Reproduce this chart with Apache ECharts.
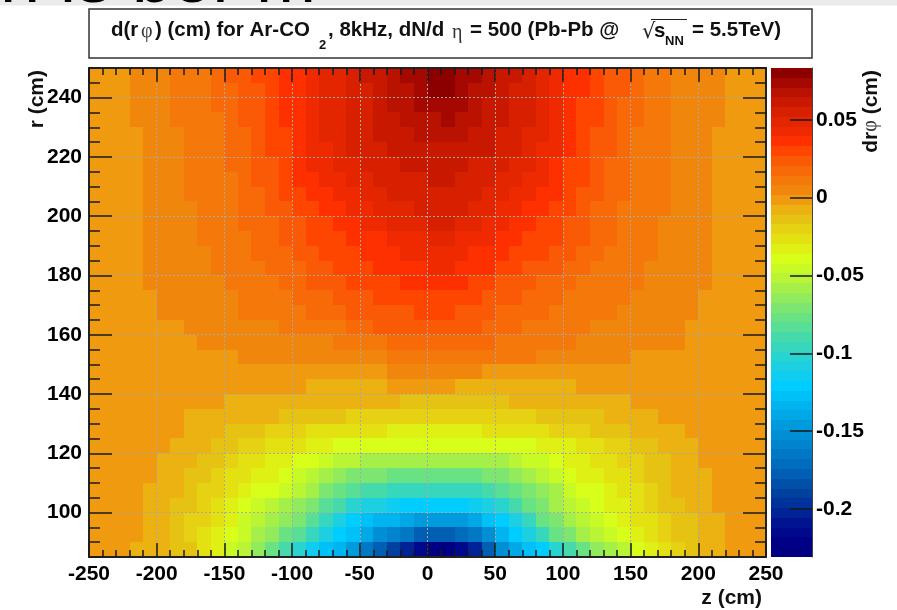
<!DOCTYPE html>
<html>
<head>
<meta charset="utf-8">
<title>d(r phi) map</title>
<script src="https://cdn.jsdelivr.net/npm/echarts@6/dist/echarts.min.js"></script>
<style>
html,body{margin:0;padding:0;background:#fff}
#main{width:897px;height:610px}
</style>
</head>
<body>
<div id="main"></div>
<script>
// bin centres in cm
var zCenters = [-245,-235,-225,-215,-205,-195,-185,-175,-165,-155,-145,-135,-125,-115,-105,-95,-85,-75,-65,-55,-45,-35,-25,-15,-5,
                5,15,25,35,45,55,65,75,85,95,105,115,125,135,145,155,165,175,185,195,205,215,225,235,245];
var rCenters = [247.5,242.5,237.5,232.5,227.5,222.5,217.5,212.5,207.5,202.5,197.5,192.5,187.5,182.5,177.5,172.5,167.5,162.5,157.5,152.5,147.5,
                142.5,137.5,132.5,127.5,122.5,117.5,112.5,107.5,102.5,97.5,92.5,87.5];

// dr-phi, in 1/1000 cm, one row per rCenters entry
var drphiRows = [
[-1,-1,0,2,4,6,8,11,13,16,21,24,27,31,35,39,43,47,51,55,59,63,68,72,76, 79,81,76,72,67,63,59,55,50,45,37,34,30,26,22,17,14,11,7,5,4,2,1,-1,-1],
[-1,-1,0,2,4,6,8,11,13,15,20,23,26,30,34,38,43,47,51,54,58,62,66,70,73, 78,78,73,70,65,62,58,54,49,44,36,33,29,25,21,16,13,11,7,5,4,2,0,-1,-1],
[-1,-1,0,2,4,6,8,10,12,15,19,22,26,30,34,38,42,46,50,54,57,61,65,68,71, 73,74,71,68,64,60,57,53,48,43,36,32,28,24,20,16,13,10,7,5,4,2,0,-1,-1],
[-1,-1,0,2,3,5,8,10,12,14,18,21,25,29,33,37,42,46,50,53,56,60,63,66,68, 70,71,68,65,62,59,56,52,47,42,35,31,27,23,19,15,12,10,7,5,3,2,0,-1,-1],
[-1,-1,0,1,3,5,7,10,12,14,17,20,24,28,32,37,42,46,50,53,55,59,61,64,66, 67,68,66,63,60,58,55,51,46,41,34,30,26,22,18,14,12,10,7,5,3,1,0,-1,-1],
[-1,-1,-1,1,3,5,7,9,11,13,16,19,23,27,31,36,41,45,49,52,54,58,60,62,63, 64,64,63,61,59,57,54,50,45,40,33,29,25,21,17,13,11,9,7,5,3,1,-1,-1,-1],
[-1,-1,-1,1,3,5,7,9,11,13,15,19,22,26,30,35,40,44,47,50,52,55,57,59,60, 62,62,61,58,57,54,51,47,43,38,32,28,23,19,16,13,11,9,7,5,3,1,-1,-1,-1],
[-1,-1,-1,1,3,5,6,8,10,12,14,18,21,25,28,33,37,41,44,47,49,52,54,56,58, 59,60,58,55,53,51,48,45,41,35,30,27,22,18,15,12,10,8,7,5,3,1,-1,-1,-1],
[-1,-1,-1,1,3,4,6,8,10,12,14,17,20,23,27,31,35,38,41,44,47,50,52,54,56, 57,57,55,53,50,48,45,42,38,33,29,25,21,17,15,12,10,8,7,5,3,1,-1,-1,-1],
[-1,-1,-1,1,2,4,5,7,9,11,13,16,19,21,25,28,32,35,38,41,44,47,49,51,53, 55,55,52,50,47,45,42,39,35,31,27,24,20,16,14,12,10,8,6,5,3,1,-1,-1,-1],
[-1,-1,-1,1,2,3,4,6,8,10,12,15,18,20,23,26,29,32,35,38,41,44,46,48,50, 52,52,49,46,44,41,39,36,32,29,26,23,19,15,13,11,9,7,6,4,3,1,-1,-1,-1],
[-1,-1,-1,1,2,3,4,6,8,10,12,14,16,18,21,24,27,29,32,34,37,39,41,43,45, 48,48,45,42,40,37,35,32,30,27,24,21,17,15,13,11,9,7,6,4,3,1,-1,-1,-1],
[-1,-1,-1,1,2,3,4,6,7,9,10,12,15,17,19,22,25,27,30,32,34,36,38,40,42, 44,44,41,39,37,34,32,29,27,24,21,18,15,13,11,10,8,6,5,4,2,1,-1,-1,-1],
[-1,-1,-1,0,2,3,4,5,7,8,9,12,14,15,17,20,23,25,28,30,32,33,35,37,39, 41,40,37,35,33,30,28,26,24,21,18,15,13,12,10,9,7,6,5,4,2,1,-1,-1,-1],
[-1,-1,-1,0,2,3,4,5,6,7,8,10,12,14,16,18,21,23,26,28,30,31,32,33,35, 37,36,33,31,28,26,24,22,20,17,15,13,11,10,9,8,6,5,4,3,2,0,-1,-1,-1],
[-1,-1,-1,-1,1,2,3,4,5,6,7,9,10,12,14,16,18,20,22,24,26,27,28,29,31, 32,31,29,27,25,23,21,19,17,15,13,11,10,9,8,7,6,5,4,3,1,0,-1,-1,-1],
[-1,-1,-1,-1,0,2,2,3,4,5,6,8,9,10,12,14,16,18,20,22,23,24,25,26,27, 28,28,26,24,22,20,19,17,15,14,12,10,9,8,7,6,5,4,3,3,1,0,-1,-1,-1],
[-1,-1,-1,-1,-1,0,1,2,3,3,4,5,6,7,8,9,10,12,14,16,19,21,22,23,24, 24,24,23,21,19,16,15,13,12,11,9,8,7,6,5,4,3,3,2,1,0,-1,-1,-1,-1],
[-1,-1,-1,-1,-1,-1,0,1,2,2,3,3,4,4,5,5,6,7,8,10,12,14,16,18,20, 20,20,19,17,15,14,13,12,10,9,8,7,6,5,5,4,3,2,2,1,0,-1,-1,-1,-1],
[-1,-1,-1,-1,-1,-1,-1,-1,0,0,1,2,3,3,4,4,5,5,5,6,7,7,8,9,11, 12,13,12,11,10,9,8,8,7,6,6,5,4,3,2,1,1,0,-1,-1,-1,-1,-1,-1,-1],
[-2,-2,-2,-2,-2,-2,-2,-2,-2,-1,-1,-1,-1,0,0,0,0,0,1,1,1,1,2,3,4, 5,4,3,2,1,0,0,0,-1,-1,-1,-1,-1,-1,-1,-1,-1,-1,-1,-2,-2,-2,-2,-2,-2],
[-2,-2,-2,-2,-2,-2,-2,-3,-3,-3,-3,-3,-3,-4,-4,-4,-5,-5,-6,-6,-6,-5,-4,-4,-3, -3,-4,-5,-6,-6,-6,-6,-6,-6,-6,-5,-4,-3,-3,-2,-2,-2,-2,-2,-2,-2,-2,-2,-2,-2],
[-2,-2,-2,-2,-3,-3,-3,-3,-4,-4,-5,-6,-6,-7,-7,-8,-8,-9,-9,-10,-10,-11,-11,-12,-12, -12,-12,-12,-12,-12,-12,-11,-11,-11,-10,-10,-9,-8,-6,-5,-4,-4,-3,-3,-2,-2,-2,-2,-2,-2],
[-3,-3,-3,-3,-3,-3,-4,-5,-6,-7,-9,-10,-11,-11,-13,-14,-15,-16,-17,-18,-18,-19,-19,-20,-20, -20,-20,-20,-20,-19,-19,-18,-18,-17,-16,-15,-13,-12,-11,-9,-8,-5,-4,-4,-3,-3,-3,-3,-3,-3],
[-3,-3,-3,-3,-3,-3,-4,-6,-9,-11,-13,-15,-17,-19,-21,-23,-24,-26,-27,-28,-29,-29,-30,-30,-30, -30,-30,-30,-30,-29,-28,-27,-26,-25,-23,-21,-19,-17,-15,-13,-11,-9,-7,-5,-4,-3,-3,-3,-3,-3],
[-3,-3,-3,-3,-3,-4,-5,-8,-11,-14,-16,-19,-22,-25,-27,-29,-32,-35,-39,-40,-41,-41,-42,-42,-42, -42,-42,-42,-42,-42,-41,-40,-38,-35,-33,-30,-28,-26,-23,-20,-17,-14,-11,-8,-6,-4,-4,-3,-3,-3],
[-3,-3,-3,-3,-4,-5,-7,-10,-14,-17,-20,-24,-27,-30,-33,-37,-42,-46,-50,-53,-55,-56,-57,-58,-58, -58,-58,-58,-58,-57,-55,-52,-48,-44,-40,-36,-32,-29,-26,-22,-19,-16,-12,-9,-6,-4,-3,-3,-3,-3],
[-3,-3,-3,-3,-4,-6,-9,-12,-16,-20,-24,-28,-32,-36,-40,-47,-53,-59,-64,-68,-71,-73,-75,-75,-75, -75,-75,-76,-75,-73,-70,-65,-59,-53,-47,-41,-36,-32,-28,-24,-21,-17,-13,-10,-7,-5,-3,-3,-3,-3],
[-3,-3,-3,-3,-5,-7,-10,-14,-18,-23,-27,-32,-37,-42,-48,-54,-61,-68,-75,-81,-87,-91,-94,-96,-96, -96,-97,-96,-94,-90,-85,-78,-70,-62,-55,-48,-42,-37,-33,-28,-24,-19,-15,-11,-8,-5,-3,-3,-3,-3],
[-2,-2,-3,-4,-5,-8,-12,-16,-20,-25,-31,-37,-43,-49,-55,-62,-72,-82,-92,-100,-106,-111,-115,-118,-119, -119,-120,-118,-114,-108,-100,-90,-80,-70,-61,-54,-47,-41,-36,-31,-26,-21,-17,-13,-9,-6,-4,-3,-2,-2],
[-2,-2,-3,-4,-6,-10,-13,-18,-23,-29,-36,-44,-51,-57,-63,-72,-84,-96,-108,-118,-125,-131,-136,-141,-144, -145,-146,-143,-137,-128,-120,-108,-93,-80,-70,-61,-53,-47,-41,-35,-29,-24,-20,-16,-12,-8,-5,-3,-2,-2],
[-2,-2,-3,-4,-7,-10,-13,-18,-24,-31,-39,-48,-56,-64,-74,-86,-98,-110,-120,-130,-142,-152,-160,-168,-175, -178,-178,-172,-162,-150,-136,-122,-108,-93,-80,-70,-60,-53,-46,-40,-33,-27,-22,-17,-13,-9,-5,-3,-2,-2],
[-2,-2,-3,-5,-8,-10,-12,-17,-24,-36,-45,-54,-64,-75,-87,-102,-116,-125,-133,-147,-162,-175,-188,-203,-216, -226,-228,-218,-200,-177,-155,-137,-126,-118,-103,-88,-77,-66,-58,-50,-42,-34,-28,-21,-16,-10,-5,-3,-2,-2]
];

var zTicks = [-250,-200,-150,-100,-50,0,50,100,150,200,250];
var rTicks = [100,120,140,160,180,200,220,240];
var barTicks = [-0.2,-0.15,-0.1,-0.05,0,0.05];

var zMin = -250, zMax = 250, rMin = 85, rMax = 250;
var valMin = -0.2308, valMax = 0.0832;

// the 50 colour bands, bottom of the palette first
var palette = [
'#000080','#000087','#00088c','#001491','#002396','#00329b','#0041a0','#0050a8','#005fb2','#006cbc',
'#0078c3','#0084cb','#008fd2','#009bdc','#00a8e6','#00b4f0','#00c0f8','#00cdff','#0fcdf0','#1cd0e1',
'#28d4d0','#37d7be','#46daaa','#58de96','#69e284','#7de670','#91eb5c','#a5f048','#b9f534','#c8fa26',
'#d7ff19','#def014','#e4e112','#e6d212','#e6c312','#ebb211','#f09b0f','#f0870c','#f5780a','#f86908',
'#fa5a05','#ff4600','#ff3000','#f02a00','#e42600','#d72000','#c81900','#b91200','#a50800','#8c0000'
];

function bandColor(v){
    var k = Math.floor((v - valMin) / (valMax - valMin) * palette.length);
    if(k < 0) k = 0;
    if(k >= palette.length) k = palette.length - 1;
    return palette[k];
}

var cells = [];
for(var i = 0; i < rCenters.length; i++){
    for(var j = 0; j < zCenters.length; j++){
        cells.push([zCenters[j], rCenters[i], drphiRows[i][j] / 1000]);
    }
}
var bands = palette.map(function(c, k){ return [k]; });

var labelFont = {color:'#000', fontFamily:'Liberation Sans', fontWeight:'bold', fontSize:21};
var tickColor = '#1a1a1a';
var sans = 'bold 20.5px "Liberation Sans"';
var symb = '20px "Liberation Serif"';
var dots = {color:'#a8a8a8', type:[2,2], width:1};

function xAxisOpt(pos, showLabel){
    return {
        type:'value', gridIndex:0, position:pos, min:zMin, max:zMax, interval:50, z:5,
        axisLine:{show:true, onZero:false, lineStyle:{color:'#222', width:2}},
        axisTick:{show:true, inside:true, length:14, customValues:zTicks, lineStyle:{color:tickColor, width:1.5}},
        minorTick:{show:true, splitNumber:5, length:7, lineStyle:{color:tickColor, width:1.5}},
        axisLabel:Object.assign({show:showLabel, margin:7, customValues:zTicks}, labelFont),
        splitLine:{show:showLabel, lineStyle:dots}
    };
}
// major r axis: ticks only where the picture has them
function rMajor(pos, showLabel){
    return {
        type:'value', gridIndex:0, position:pos, min:rMin, max:rMax, z:5,
        axisLine:{show:true, onZero:false, lineStyle:{color:'#222', width:2}},
        axisTick:{show:true, inside:true, length:23, customValues:rTicks, lineStyle:{color:tickColor, width:1.5}},
        axisLabel:Object.assign({show:showLabel, margin:7, customValues:rTicks}, labelFont),
        splitLine:{show:showLabel, lineStyle:dots}
    };
}
function rMinor(pos){
    return {
        type:'value', gridIndex:0, position:pos, min:rMin, max:rMax, interval:5, z:5,
        axisLine:{show:false, onZero:false},
        axisTick:{show:true, inside:true, length:11, lineStyle:{color:tickColor, width:1.5}},
        axisLabel:{show:false}, splitLine:{show:false}
    };
}

var myChart = echarts.init(document.getElementById('main'), null, {renderer:'canvas'});
myChart.setOption({
    animation:false,
    backgroundColor:'#fff',
    grid:[
        {left:89, top:68, width:677, height:489, containLabel:false},
        {left:771, top:68, width:41, height:489, containLabel:false}
    ],
    xAxis:[
        xAxisOpt('bottom', true),
        xAxisOpt('top', false),
        {type:'value', gridIndex:1, min:0, max:1, show:false}
    ],
    yAxis:[
        rMajor('left', true),
        rMinor('left'),
        rMajor('right', false),
        rMinor('right'),
        {
            type:'value', gridIndex:1, position:'right', min:valMin, max:valMax, z:5,
            axisLine:{show:true, onZero:false, lineStyle:{color:'#444', width:1}},
            axisTick:{show:true, inside:true, length:22, customValues:barTicks, lineStyle:{color:tickColor, width:1.5}},
            axisLabel:Object.assign({margin:4, customValues:barTicks, align:'left', formatter:function(v){ return String(v); }}, labelFont),
            splitLine:{show:false}
        }
    ],
    series:[
        {
            type:'custom', xAxisIndex:0, yAxisIndex:0, data:cells, clip:true, silent:true,
            encode:{x:0, y:1},
            renderItem:function(params, api){
                var z = api.value(0), r = api.value(1);
                var a = api.coord([z - 5, r + 2.5]);
                var b = api.coord([z + 5, r - 2.5]);
                var x0 = Math.round(a[0]), y0 = Math.round(a[1]);
                return {type:'rect', shape:{x:x0, y:y0, width:Math.round(b[0]) - x0, height:Math.round(b[1]) - y0},
                    style:{fill:bandColor(api.value(2))}};
            }
        },
        {
            type:'custom', xAxisIndex:2, yAxisIndex:4, data:bands, silent:true,
            encode:{y:0},
            renderItem:function(params, api){
                var k = api.value(0);
                var step = (valMax - valMin) / palette.length;
                var a = api.coord([0, valMin + (k + 1) * step]);
                var b = api.coord([1, valMin + k * step]);
                var y0 = Math.round(a[1]);
                return {type:'rect', shape:{x:a[0], y:y0, width:b[0] - a[0], height:Math.round(b[1]) - y0},
                    style:{fill:palette[k]}};
            }
        }
    ],
    graphic:[
        // stray strip at the top of the page
        {type:'rect', silent:true, z:1, shape:{x:0, y:0, width:897, height:5.5}, style:{fill:'#ebebeb'}},
        {type:'text', silent:true, z:3, x:0, y:-54, style:{text:'n is ber m', font:'72px "Liberation Sans"', fill:'#000', textVerticalAlign:'alphabetic'}},
        // title box
        {type:'rect', silent:true, z:1, shape:{x:89, y:9, width:723, height:49}, style:{fill:'#fff', stroke:'#333', lineWidth:1.5}},
        {type:'text', silent:true, z:2, x:111, y:30, style:{text:'d(r', font:sans, fill:'#111', textVerticalAlign:'middle'}},
        {type:'text', silent:true, z:2, x:141, y:32, style:{text:'φ', font:symb, fill:'#333', textVerticalAlign:'middle'}},
        {type:'text', silent:true, z:2, x:155, y:30, style:{text:') (cm) for Ar-CO', font:sans, fill:'#111', textVerticalAlign:'middle'}},
        {type:'text', silent:true, z:2, x:319, y:45, style:{text:'2', font:'bold 13px "Liberation Sans"', fill:'#111', textVerticalAlign:'middle'}},
        {type:'text', silent:true, z:2, x:328, y:30, style:{text:', 8kHz, dN/d', font:sans, fill:'#111', textVerticalAlign:'middle'}},
        {type:'text', silent:true, z:2, x:452, y:33, style:{text:'η', font:symb, fill:'#333', textVerticalAlign:'middle'}},
        {type:'text', silent:true, z:2, x:470, y:30, style:{text:'= 500 (Pb-Pb @', font:sans, fill:'#111', textVerticalAlign:'middle'}},
        {type:'text', silent:true, z:2, x:642, y:33, style:{text:'√', font:'21px "DejaVu Sans"', fill:'#222', textVerticalAlign:'middle'}},
        {type:'line', silent:true, z:2, shape:{x1:651, y1:19.5, x2:687, y2:19.5}, style:{stroke:'#222', lineWidth:1}},
        {type:'text', silent:true, z:2, x:654, y:31, style:{text:'s', font:sans, fill:'#111', textVerticalAlign:'middle'}},
        {type:'text', silent:true, z:2, x:665, y:41, style:{text:'NN', font:'bold 13px "Liberation Sans"', fill:'#111', textVerticalAlign:'middle'}},
        {type:'text', silent:true, z:2, x:692, y:30, style:{text:'= 5.5TeV)', font:sans, fill:'#111', textVerticalAlign:'middle'}},
        // axis titles
        {type:'text', silent:true, z:2, x:762, y:598, style:{text:'z (cm)', font:'bold 21px "Liberation Sans"', fill:'#111', textAlign:'right', textVerticalAlign:'middle'}},
        {type:'text', silent:true, z:2, x:37, y:70, rotation:Math.PI / 2, style:{text:'r (cm)', font:'bold 21px "Liberation Sans"', fill:'#111', textAlign:'right', textVerticalAlign:'middle'}},
        {type:'text', silent:true, z:2, x:871, y:70, rotation:Math.PI / 2, style:{
            text:'{a|dr}{b|φ}{a| (cm)}', textAlign:'right', textVerticalAlign:'middle', fill:'#111',
            rich:{a:{font:'bold 21px "Liberation Sans"', fill:'#111'}, b:{font:'20px "Liberation Serif"', fill:'#333'}}
        }}
    ]
});
</script>
</body>
</html>
